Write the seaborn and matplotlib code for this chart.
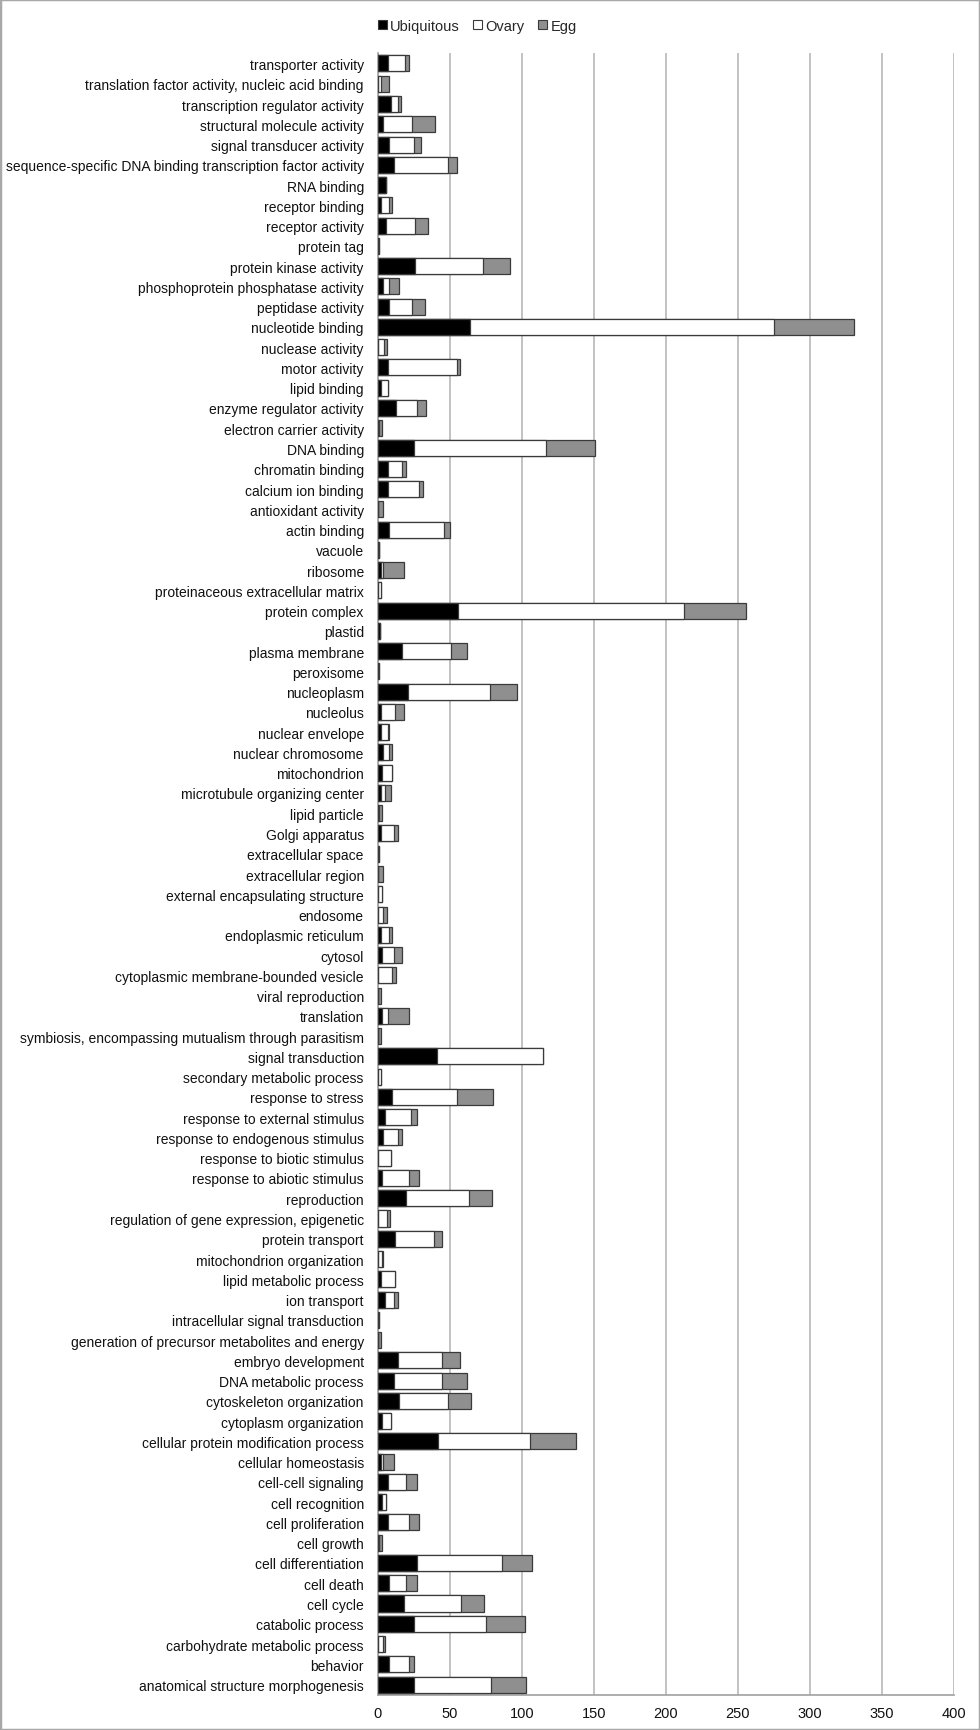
import numpy as np
import pandas as pd
import matplotlib
matplotlib.use('Agg')
import matplotlib.pyplot as plt
import matplotlib.patches as mpatches
import seaborn as sns

# GO term categories, top to bottom as in the chart
categories = [
    'transporter activity', 'translation factor activity, nucleic acid binding',
    'transcription regulator activity', 'structural molecule activity',
    'signal transducer activity', 'sequence-specific DNA binding transcription factor activity',
    'RNA binding', 'receptor binding', 'receptor activity', 'protein tag',
    'protein kinase activity', 'phosphoprotein phosphatase activity', 'peptidase activity',
    'nucleotide binding', 'nuclease activity', 'motor activity', 'lipid binding',
    'enzyme regulator activity', 'electron carrier activity', 'DNA binding',
    'chromatin binding', 'calcium ion binding', 'antioxidant activity', 'actin binding',
    'vacuole', 'ribosome', 'proteinaceous extracellular matrix', 'protein complex',
    'plastid', 'plasma membrane', 'peroxisome', 'nucleoplasm', 'nucleolus',
    'nuclear envelope', 'nuclear chromosome', 'mitochondrion',
    'microtubule organizing center', 'lipid particle', 'Golgi apparatus',
    'extracellular space', 'extracellular region', 'external encapsulating structure',
    'endosome', 'endoplasmic reticulum', 'cytosol', 'cytoplasmic membrane-bounded vesicle',
    'viral reproduction', 'translation',
    'symbiosis, encompassing mutualism through parasitism', 'signal transduction',
    'secondary metabolic process', 'response to stress', 'response to external stimulus',
    'response to endogenous stimulus', 'response to biotic stimulus',
    'response to abiotic stimulus', 'reproduction',
    'regulation of gene expression, epigenetic', 'protein transport',
    'mitochondrion organization', 'lipid metabolic process', 'ion transport',
    'intracellular signal transduction', 'generation of precursor metabolites and energy',
    'embryo development', 'DNA metabolic process', 'cytoskeleton organization',
    'cytoplasm organization', 'cellular protein modification process',
    'cellular homeostasis', 'cell-cell signaling', 'cell recognition',
    'cell proliferation', 'cell growth', 'cell differentiation', 'cell death',
    'cell cycle', 'catabolic process', 'carbohydrate metabolic process', 'behavior',
    'anatomical structure morphogenesis',
]

ubiquitous = [7, 0, 9, 4, 8, 11, 6, 2, 6, 0, 26, 4, 8, 64, 0, 7, 2, 13, 0, 25,
              7, 7, 0, 8, 1, 2, 0, 56, 1.5, 17, 0, 21, 2, 2, 4, 3, 2, 0, 2, 0,
              0, 0, 0.5, 2, 3, 0, 0, 3, 0, 41, 0, 10, 5, 4, 0, 3, 20, 0.5, 12, 0,
              2, 5, 0, 0, 14, 11, 15, 3, 42, 2, 7, 3, 7, 1, 27, 8, 18, 25, 0.5, 8,
              25]
ovary = [12, 2, 5, 20, 17, 38, 0, 6, 20, 1, 47, 4, 16, 211, 4.5, 48, 5, 14.5, 1, 92,
         10, 21.5, 0.5, 38, 0, 2, 2, 157, 0, 34, 0.7, 57, 10, 5, 4, 7, 3, 1, 9, 0.7,
         0.5, 3, 3.5, 6, 8, 10, 0, 4, 0, 74, 2, 45, 18, 10, 9, 19, 43.5, 6, 27, 3,
         10, 6, 0.7, 0, 31, 34, 34, 6, 64, 2, 13, 3, 15, 0, 59, 12, 40, 50, 3.5, 14,
         54]
egg = [3, 6, 2, 16, 5, 6, 0, 2, 9, 0, 19, 7, 9, 56, 2, 2, 0, 6, 2, 34,
       3, 3, 3.4, 4, 0, 14, 0, 43, 0, 11, 0, 19, 6, 1, 2, 0, 4, 2, 3, 0,
       3.4, 0, 2.8, 2, 6, 3, 2, 15, 2, 0, 0, 25, 4, 3, 0, 7, 16, 2, 6, 1,
       0, 3, 0, 2, 12, 17, 16, 0, 32, 7, 7, 0, 7, 2, 21, 7, 16, 27, 1, 3,
       24]

series_names = ['Ubiquitous', 'Ovary', 'Egg']
series_colors = ['#000000', '#ffffff', '#8f8f8f']
x_ticks = [0, 50, 100, 150, 200, 250, 300, 350, 400]

df = pd.DataFrame({'Category': categories, 'Ubiquitous': ubiquitous,
                   'Ovary': ovary, 'Egg': egg})
# cumulative ends for stacking (drawn back to front)
df['Ovary_end'] = df['Ubiquitous'] + df['Ovary']
df['Egg_end'] = df['Ovary_end'] + df['Egg']

sns.set_style('white')
plt.rcParams['font.family'] = ['Liberation Sans', 'DejaVu Sans']

fig = plt.figure(figsize=(9.8, 17.31), dpi=100)
ax = fig.add_axes([0.3854, 0.0204, 0.5878, 0.9482])

edge = '#3a3a3a'
for col, color in [('Egg_end', series_colors[2]), ('Ovary_end', series_colors[1]),
                   ('Ubiquitous', series_colors[0])]:
    sns.barplot(data=df, x=col, y='Category', color=color, orient='h', width=0.79,
                edgecolor=edge, linewidth=0.9, saturation=1, ax=ax, zorder=3)

ax.set_xlim(0, 400)
ax.set_ylim(len(categories) - 0.5, -0.5)
ax.set_xticks(x_ticks)
ax.set_xlabel('')
ax.set_ylabel('')
ax.xaxis.grid(True, color='#bdbdbd', linewidth=1.3, zorder=0)
ax.yaxis.grid(False)
ax.set_axisbelow(True)

for s in ['top', 'right']:
    ax.spines[s].set_visible(False)
for s in ['left', 'bottom']:
    ax.spines[s].set_color('#a0a0a0')
    ax.spines[s].set_linewidth(1.2)

ax.tick_params(axis='y', which='major', length=0, pad=10, labelsize=10, labelcolor='#111111')
ax.set_yticks(np.arange(len(categories) + 1) - 0.5, minor=True)
ax.tick_params(axis='y', which='minor', length=4, color='#a0a0a0', width=1)
ax.tick_params(axis='x', which='major', length=0, pad=8, labelsize=10.5, labelcolor='#111111')

handles = [mpatches.Patch(facecolor=c, edgecolor=edge, linewidth=0.8, label=n)
           for n, c in zip(series_names, series_colors)]
fig.legend(handles=handles, loc='center', bbox_to_anchor=(0.487, 1 - 27 / 1731), ncol=3,
           frameon=False, fontsize=10.5, handlelength=0.6, handleheight=0.6,
           handletextpad=0.25, columnspacing=0.9)

fig.patches.append(mpatches.Rectangle((0, 0), 1, 1, transform=fig.transFigure, fill=False,
                                      edgecolor='#a8a8a8', linewidth=2.5))

fig.savefig('out.png', dpi=100)
